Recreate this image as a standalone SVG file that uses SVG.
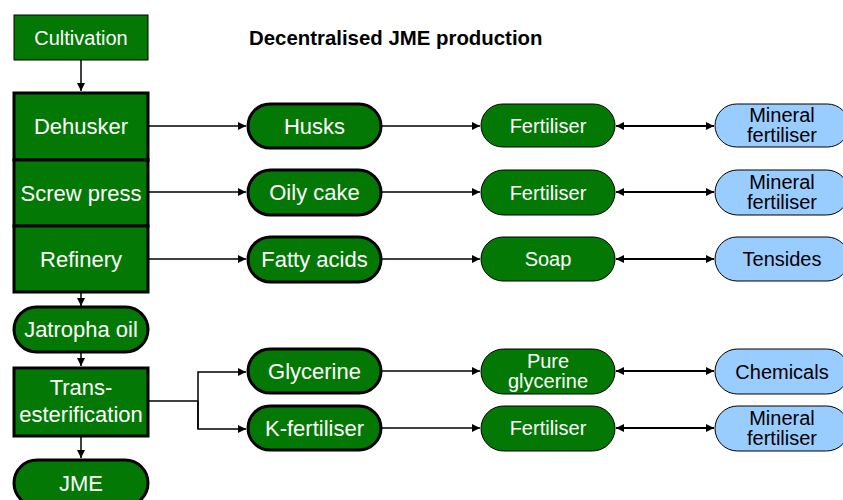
<svg xmlns="http://www.w3.org/2000/svg" width="843" height="500" viewBox="0 0 843 500">
  <style>
    .proc { fill: #047804; stroke: #000; stroke-width: 3; }
    .thin { fill: #047804; stroke: #000; stroke-width: 1; }
    .prod { fill: #047804; stroke: #000; stroke-width: 3; }
    .ext { fill: #99CCFF; stroke: #000; stroke-width: 1; }
    .lbl { font-family: "Liberation Sans", Arial, sans-serif; font-size: 22px; fill: #fff; text-anchor: middle; }
    .sm { font-size: 20px; }
    .dark { fill: #000; }
    .title { font-family: "Liberation Sans", Arial, sans-serif; font-size: 20.4px; font-weight: bold; fill: #000; }
    .conn { fill: none; stroke: #000; stroke-width: 1.5; }
    .dbl { fill: none; stroke: #000; stroke-width: 2; }
  </style>
  <defs>
    <marker id="head" viewBox="0 0 10 10" refX="10" refY="5" markerWidth="8" markerHeight="8" markerUnits="userSpaceOnUse" orient="auto">
      <path d="M0,0 L10,5 L0,10 z" fill="#000"/>
    </marker>
    <marker id="tail" viewBox="0 0 10 10" refX="0" refY="5" markerWidth="8" markerHeight="8" markerUnits="userSpaceOnUse" orient="auto">
      <path d="M10,0 L0,5 L10,10 z" fill="#000"/>
    </marker>
  </defs>

  <rect width="843" height="500" fill="#fff"/>

  <text class="title" x="249" y="45">Decentralised JME production</text>

  <!-- connectors -->
  <g id="connectors">
    <line class="conn" x1="81" y1="60" x2="81" y2="91" marker-end="url(#head)"/>
    <line class="conn" x1="81" y1="292" x2="81" y2="306" marker-end="url(#head)"/>
    <line class="conn" x1="81" y1="352" x2="81" y2="366" marker-end="url(#head)"/>
    <line class="conn" x1="81" y1="437" x2="81" y2="458" marker-end="url(#head)"/>

    <line class="conn" x1="148" y1="126" x2="246" y2="126" marker-end="url(#head)"/>
    <line class="conn" x1="148" y1="192" x2="246" y2="192" marker-end="url(#head)"/>
    <line class="conn" x1="148" y1="259" x2="246" y2="259" marker-end="url(#head)"/>
    <polyline class="conn" points="148,401 198,401"/>
    <polyline class="conn" points="198,429 198,372 246,372" marker-end="url(#head)"/>
    <polyline class="conn" points="198,401 198,429 246,429" marker-end="url(#head)"/>

    <line class="conn" x1="382" y1="126" x2="480" y2="126" marker-end="url(#head)"/>
    <line class="conn" x1="382" y1="192" x2="480" y2="192" marker-end="url(#head)"/>
    <line class="conn" x1="382" y1="259" x2="480" y2="259" marker-end="url(#head)"/>
    <line class="conn" x1="382" y1="371" x2="480" y2="371" marker-end="url(#head)"/>
    <line class="conn" x1="382" y1="428" x2="480" y2="428" marker-end="url(#head)"/>

    <line class="dbl" x1="616" y1="126" x2="714" y2="126" marker-start="url(#tail)" marker-end="url(#head)"/>
    <line class="dbl" x1="616" y1="192" x2="714" y2="192" marker-start="url(#tail)" marker-end="url(#head)"/>
    <line class="dbl" x1="616" y1="259" x2="714" y2="259" marker-start="url(#tail)" marker-end="url(#head)"/>
    <line class="dbl" x1="616" y1="371" x2="714" y2="371" marker-start="url(#tail)" marker-end="url(#head)"/>
    <line class="dbl" x1="616" y1="428" x2="714" y2="428" marker-start="url(#tail)" marker-end="url(#head)"/>
  </g>

  <!-- process chain -->
  <g id="cultivation">
    <rect class="thin" x="14" y="15" width="134" height="45"/>
    <text class="lbl sm" x="81" y="45">Cultivation</text>
  </g>
  <g id="dehusker">
    <rect class="proc" x="14" y="93" width="134" height="67"/>
    <text class="lbl" x="81" y="134">Dehusker</text>
  </g>
  <g id="screw-press">
    <rect class="proc" x="14" y="160" width="134" height="66"/>
    <text class="lbl" x="81" y="201">Screw press</text>
  </g>
  <g id="refinery">
    <rect class="proc" x="14" y="226" width="134" height="66"/>
    <text class="lbl" x="81" y="267">Refinery</text>
  </g>
  <g id="jatropha-oil">
    <rect class="prod" x="14" y="307" width="134" height="45" rx="22.5"/>
    <text class="lbl" x="81" y="337">Jatropha oil</text>
  </g>
  <g id="transesterification">
    <rect class="proc" x="14" y="368" width="134" height="68"/>
    <text class="lbl" x="81" y="395">Trans-</text>
    <text class="lbl" x="81" y="422">esterification</text>
  </g>
  <g id="jme">
    <rect class="prod" x="14" y="460" width="134" height="46" rx="23"/>
    <text class="lbl" x="81" y="491">JME</text>
  </g>

  <!-- by-products -->
  <g id="husks">
    <rect class="prod" x="248" y="104" width="133" height="44" rx="22"/>
    <text class="lbl" x="314.5" y="134">Husks</text>
  </g>
  <g id="oily-cake">
    <rect class="prod" x="248" y="170" width="133" height="45" rx="22.5"/>
    <text class="lbl" x="314.5" y="200">Oily cake</text>
  </g>
  <g id="fatty-acids">
    <rect class="prod" x="248" y="237" width="133" height="45" rx="22.5"/>
    <text class="lbl" x="314.5" y="267">Fatty acids</text>
  </g>
  <g id="glycerine">
    <rect class="prod" x="248" y="349" width="133" height="44" rx="22"/>
    <text class="lbl" x="314.5" y="379">Glycerine</text>
  </g>
  <g id="k-fertiliser">
    <rect class="prod" x="248" y="406" width="133" height="44" rx="22"/>
    <text class="lbl" x="314.5" y="436">K-fertiliser</text>
  </g>

  <!-- uses -->
  <g id="fertiliser-1">
    <rect class="thin" x="481" y="104" width="134" height="43" rx="21.5"/>
    <text class="lbl sm" x="548" y="133">Fertiliser</text>
  </g>
  <g id="fertiliser-2">
    <rect class="thin" x="481" y="170" width="134" height="45" rx="22.5"/>
    <text class="lbl sm" x="548" y="200">Fertiliser</text>
  </g>
  <g id="soap">
    <rect class="thin" x="481" y="237" width="134" height="44" rx="22"/>
    <text class="lbl sm" x="548" y="266">Soap</text>
  </g>
  <g id="pure-glycerine">
    <rect class="thin" x="481" y="349" width="134" height="45" rx="22.5"/>
    <text class="lbl sm" x="548" y="368">Pure</text>
    <text class="lbl sm" x="548" y="388">glycerine</text>
  </g>
  <g id="fertiliser-3">
    <rect class="thin" x="481" y="406" width="134" height="45" rx="22.5"/>
    <text class="lbl sm" x="548" y="435">Fertiliser</text>
  </g>

  <!-- substituted products -->
  <g id="mineral-fertiliser-1">
    <rect class="ext" x="715" y="104" width="134" height="43" rx="21.5"/>
    <text class="lbl sm dark" x="782" y="122">Mineral</text>
    <text class="lbl sm dark" x="782" y="142">fertiliser</text>
  </g>
  <g id="mineral-fertiliser-2">
    <rect class="ext" x="715" y="170" width="134" height="45" rx="22.5"/>
    <text class="lbl sm dark" x="782" y="189">Mineral</text>
    <text class="lbl sm dark" x="782" y="209">fertiliser</text>
  </g>
  <g id="tensides">
    <rect class="ext" x="715" y="237" width="134" height="44" rx="22"/>
    <text class="lbl sm dark" x="782" y="266">Tensides</text>
  </g>
  <g id="chemicals">
    <rect class="ext" x="715" y="349" width="134" height="45" rx="22.5"/>
    <text class="lbl sm dark" x="782" y="379">Chemicals</text>
  </g>
  <g id="mineral-fertiliser-3">
    <rect class="ext" x="715" y="406" width="134" height="45" rx="22.5"/>
    <text class="lbl sm dark" x="782" y="425">Mineral</text>
    <text class="lbl sm dark" x="782" y="445">fertiliser</text>
  </g>
</svg>
